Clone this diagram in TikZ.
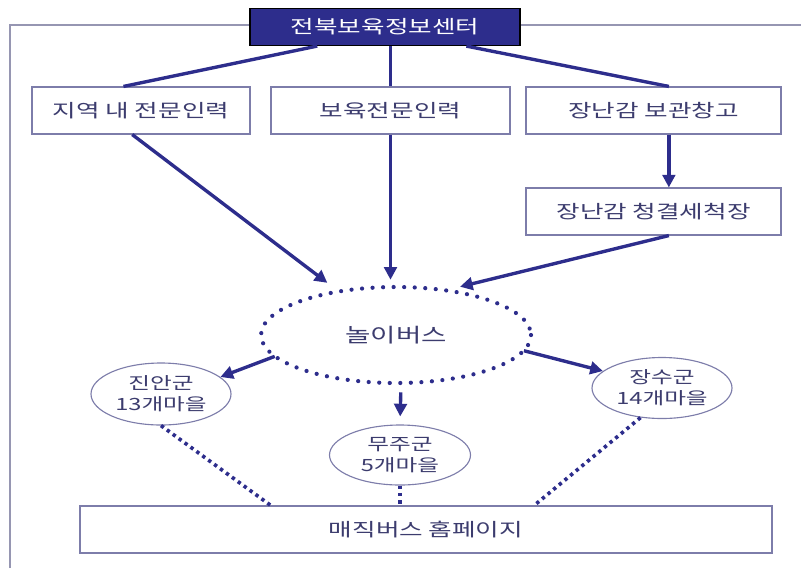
\documentclass[tikz,border=0pt]{standalone}
\usepackage{fontspec}
\setmainfont{Noto Sans CJK KR}[FakeStretch=1.4]
\usetikzlibrary{shapes.geometric,calc,arrows.meta}
\definecolor{navy}{RGB}{45,45,140}
\definecolor{edge}{RGB}{125,125,170}
\definecolor{ink}{RGB}{60,60,110}
\definecolor{frame}{RGB}{150,150,178}
\newcommand{\px}{0.025cm}
\tikzset{
  box/.style={draw=edge,line width=0.8pt,fill=white,text=ink,font=\fontsize{13}{15}\selectfont,minimum height={47*\px},inner sep=0pt},
  town/.style={ellipse,draw=edge,line width=0.8pt,fill=white,text=ink,font=\fontsize{12}{15}\selectfont,align=center,inner sep=0pt},
  link/.style={draw=navy,line width=2.4pt},
  arr/.style={link,-{Triangle[length=9pt,width=9pt]}},
  dots/.style={draw=navy,line width=2.6pt,dash pattern=on 2.4pt off 2.8pt}
}

\begin{document}
\begin{tikzpicture}[x=\px,y=-\px]
\useasboundingbox (0,0) rectangle (801,568);
\draw[frame,line width=0.8pt] (10,568) -- (10,25) -- (801,25);
\node[box,fill=navy,draw=black,text=white,minimum width={270*\px},minimum height={37*\px}] (center) at (385,27) {전북보육정보센터};
\node[box,minimum width={218*\px}] (local) at (141,110.5) {지역 내 전문인력};
\node[box,minimum width={239*\px}] (expert) at (390.5,110.5) {보육전문인력};
\node[box,minimum width={255*\px}] (store) at (653.5,110.5) {장난감 보관창고};
\node[box,minimum width={255*\px}] (wash) at (653.5,211.5) {장난감 청결세척장};
\node[ellipse,minimum width={270*\px},minimum height={96*\px},text=ink,font=\fontsize{14}{16}\selectfont] (bus) at (396,335) {놀이버스};
\draw[navy,line width=3pt,line cap=round,dash pattern=on 0pt off 7.5pt] (bus) ellipse [x radius=135,y radius=48];
\node[town,minimum width={140*\px},minimum height={62*\px}] (jinan) at (161,394) {진안군\\13개마을};
\node[town,minimum width={141*\px},minimum height={60*\px}] (muju) at (400,455) {무주군\\5개마을};
\node[town,minimum width={140*\px},minimum height={61*\px}] (jangsu) at (662,388) {장수군\\14개마을};
\node[box,minimum width={692*\px}] (home) at (426,529.5) {매직버스 홈페이지};

\draw[link] ($(center.south west)!0.25!(center.south east)$) -- ($(local.north west)!0.42!(local.north east)$);
\draw[link] (expert.north |- center.south) -- (expert.north);
\draw[link] ($(center.south west)!0.8!(center.south east)$) -- ($(store.north west)!0.56!(store.north east)$);
\draw[arr] ($(store.south west)!0.56!(store.south east)$) -- ($(wash.north west)!0.56!(wash.north east)$);
\draw[arr,shorten >=14*\px] ($(local.south west)!0.46!(local.south east)$) -- (bus);
\draw[arr,shorten >=7*\px] (expert.south) -- (expert.south |- bus.north);
\draw[arr] ($(wash.south west)!0.56!(wash.south east)$) -- ($(bus.north)+(64,0)$);
\draw[arr] (bus.190) -- (jinan.16);
\draw[arr] (bus.-7) -- (jangsu.164);
\draw[arr,shorten <=9*\px,shorten >=8*\px] ($(bus.south)+(5,0)$) -- (muju.north);
\draw[dots] (jinan.south) -- ($(home.north west)!0.276!(home.north east)$);
\draw[dots] (muju.south) -- (muju.south |- home.north);
\draw[dots] (jangsu.234) -- ($(home.north west)!0.656!(home.north east)$);
\end{tikzpicture}
\end{document}
